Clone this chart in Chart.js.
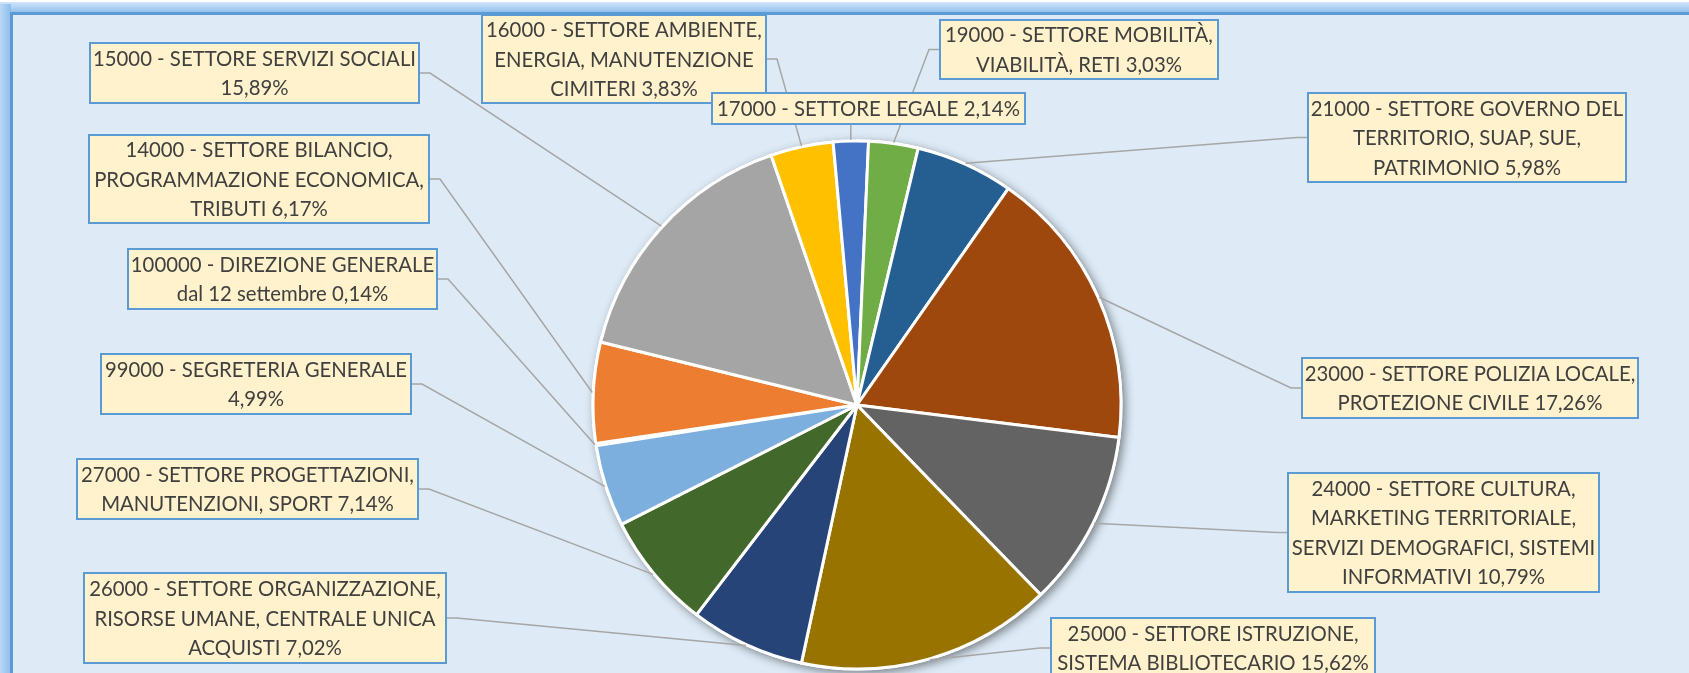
<!DOCTYPE html>
<html>
<head>
<meta charset="utf-8">
<script src="https://cdn.jsdelivr.net/npm/chart.js@4.4.1/dist/chart.umd.min.js"></script>
<style>
html,body{margin:0;padding:0;background:#fff;}
#wrap{width:1689px;height:673px;position:relative;}
</style>
</head>
<body>
<div id="wrap"><canvas id="c"></canvas></div>
<script>
// ---- data (order as in the source sheet) ----
const categories = [
  "100000 - DIREZIONE GENERALE\ndal 12 settembre",
  "14000 - SETTORE BILANCIO,\nPROGRAMMAZIONE ECONOMICA,\nTRIBUTI",
  "15000 - SETTORE SERVIZI SOCIALI\n",
  "16000 - SETTORE AMBIENTE,\nENERGIA, MANUTENZIONE\nCIMITERI",
  "17000 - SETTORE LEGALE",
  "19000 - SETTORE MOBILITÀ,\nVIABILITÀ, RETI",
  "21000 - SETTORE GOVERNO DEL\nTERRITORIO, SUAP, SUE,\nPATRIMONIO",
  "23000 - SETTORE POLIZIA LOCALE,\nPROTEZIONE CIVILE",
  "24000 - SETTORE CULTURA,\nMARKETING TERRITORIALE,\nSERVIZI DEMOGRAFICI, SISTEMI\nINFORMATIVI",
  "25000 - SETTORE ISTRUZIONE,\nSISTEMA BIBLIOTECARIO",
  "26000 - SETTORE ORGANIZZAZIONE,\nRISORSE UMANE, CENTRALE UNICA\nACQUISTI",
  "27000 - SETTORE PROGETTAZIONI,\nMANUTENZIONI, SPORT",
  "99000 - SEGRETERIA GENERALE\n"
];
const shares = [0.14, 6.17, 15.89, 3.83, 2.14, 3.03, 5.98, 17.26, 10.79, 15.62, 7.02, 7.14, 4.99];

// ---- styles / layout (kept apart from the data) ----
const sliceColors = ['#5B9BD5','#ED7D31','#A5A5A5','#FFC000','#4472C4','#70AD47',
                     '#255E91','#9E480E','#636363','#997300','#264478','#43682B','#7CAFDD'];
// callout boxes: x, y, w, h, side where the leader attaches
const calloutBoxes = [
  {x:128,  y:249, w:309, h:60,  side:'right'},
  {x:89,   y:135, w:340, h:88,  side:'right'},
  {x:90,   y:43,  w:329, h:60,  side:'right'},
  {x:482,  y:15,  w:284, h:88,  side:'right'},
  {x:712,  y:93,  w:313, h:31,  side:'bottom'},
  {x:940,  y:20,  w:278, h:59,  side:'left'},
  {x:1308, y:93,  w:318, h:89,  side:'left'},
  {x:1302, y:358, w:336, h:60,  side:'left'},
  {x:1288, y:473, w:311, h:119, side:'left'},
  {x:1051, y:618, w:324, h:60,  side:'left'},
  {x:84,   y:573, w:362, h:90,  side:'right'},
  {x:77,   y:459, w:341, h:60,  side:'right'},
  {x:101,  y:354, w:310, h:60,  side:'right'}
];
const LINE_H = 29.5;
const FONT_PX = 21.5;
const FONT_FAMILY = 'Lato, "Open Sans", sans-serif';

function labelText(i){
  const pct = shares[i].toFixed(2).replace('.', ',') + '%';
  const c = categories[i];
  return (c.endsWith('\n') ? c + pct : c + ' ' + pct).split('\n');
}

const framePlugin = {
  id: 'frame',
  beforeDraw(chart){
    const ctx = chart.ctx, W = chart.width, H = chart.height;
    ctx.save();
    ctx.fillStyle = '#ffffff';
    ctx.fillRect(0, 0, W, H);
    // outer glow (top)
    let g = ctx.createLinearGradient(0, 2, 0, 13);
    g.addColorStop(0, '#D2E6FA');
    g.addColorStop(1, '#8DBDEC');
    ctx.fillStyle = g;
    ctx.fillRect(0, 2, W, 11);
    // outer glow (left)
    g = ctx.createLinearGradient(0, 0, 11, 0);
    g.addColorStop(0, '#B9D7F5');
    g.addColorStop(1, '#8DBDEC');
    ctx.fillStyle = g;
    ctx.fillRect(0, 4, 11, H);
    // frame line
    ctx.fillStyle = '#5B9BD5';
    ctx.fillRect(10, 12, W, 3);
    ctx.fillRect(10, 12, 3, H);
    // inner area
    ctx.fillStyle = '#DEEBF7';
    ctx.fillRect(13, 15, W, H);
    ctx.restore();
  },
  beforeDatasetsDraw(chart){
    const ctx = chart.ctx;
    const arc = chart.getDatasetMeta(0).data[0];
    const p = arc.getProps(['x','y','outerRadius'], true);
    ctx.save();
    ctx.shadowColor = 'rgba(0,0,0,0.45)';
    ctx.shadowBlur = 10;
    ctx.shadowOffsetX = 3;
    ctx.shadowOffsetY = 3;
    ctx.beginPath();
    ctx.arc(p.x, p.y, p.outerRadius + 1.5, 0, Math.PI * 2);
    ctx.fillStyle = '#ffffff';
    ctx.fill();
    ctx.restore();
  }
};

const calloutPlugin = {
  id: 'callouts',
  afterDatasetsDraw(chart){
    const ctx = chart.ctx;
    const meta = chart.getDatasetMeta(0);
    ctx.save();
    // leader lines first
    ctx.strokeStyle = '#A6A6A6';
    ctx.lineWidth = 1.5;
    meta.data.forEach((arc, i) => {
      const b = calloutBoxes[i];
      const p = arc.getProps(['x','y','startAngle','endAngle','outerRadius'], true);
      const mid = (p.startAngle + p.endAngle) / 2;
      const ax = p.x + Math.cos(mid) * (p.outerRadius + 1);
      const ay = p.y + Math.sin(mid) * (p.outerRadius + 1);
      ctx.beginPath();
      if (b.side === 'bottom') {
        ctx.moveTo(ax, b.y + b.h);
        ctx.lineTo(ax, ay);
      } else {
        const cy = b.y + b.h / 2;
        const ex = b.side === 'right' ? b.x + b.w : b.x;
        const elb = b.side === 'right' ? ex + 11 : ex - 11;
        ctx.moveTo(ex, cy);
        ctx.lineTo(elb, cy);
        ctx.lineTo(ax, ay);
      }
      ctx.stroke();
    });
    // boxes and text
    ctx.font = FONT_PX + 'px ' + FONT_FAMILY;
    const k = 323 / ctx.measureText('15000 - SETTORE SERVIZI SOCIALI').width;
    meta.data.forEach((arc, i) => {
      const b = calloutBoxes[i];
      ctx.fillStyle = '#FFF2CC';
      ctx.fillRect(b.x, b.y, b.w, b.h);
      ctx.strokeStyle = '#5B9BD5';
      ctx.lineWidth = 2;
      ctx.strokeRect(b.x, b.y, b.w, b.h);
      const lines = labelText(i);
      const top = b.y + (b.h - lines.length * LINE_H) / 2;
      ctx.fillStyle = '#404040';
      ctx.textAlign = 'center';
      ctx.textBaseline = 'alphabetic';
      lines.forEach((ln, j) => {
        const cy = top + LINE_H * (j + 0.5);
        ctx.save();
        ctx.translate(b.x + b.w / 2, cy + 7.6);
        ctx.scale(k, 1);
        ctx.fillText(ln, 0, 0);
        ctx.restore();
      });
    });
    ctx.restore();
  }
};

new Chart(document.getElementById('c'), {
  type: 'pie',
  data: {
    labels: categories.map(c => c.replace(/\n/g, ' ').trim()),
    datasets: [{
      data: shares,
      backgroundColor: sliceColors,
      borderColor: '#ffffff',
      borderWidth: 3,
      borderJoinStyle: 'round',
      radius: 264,
      rotation: -98.9
    }]
  },
  options: {
    responsive: true,
    maintainAspectRatio: false,
    animation: false,
    events: [],
    layout: { padding: { left: 25, right: 0, top: 137, bottom: 0 } },
    plugins: { legend: { display: false }, tooltip: { enabled: false }, title: { display: false } }
  },
  plugins: [framePlugin, calloutPlugin]
});
</script>
</body>
</html>
